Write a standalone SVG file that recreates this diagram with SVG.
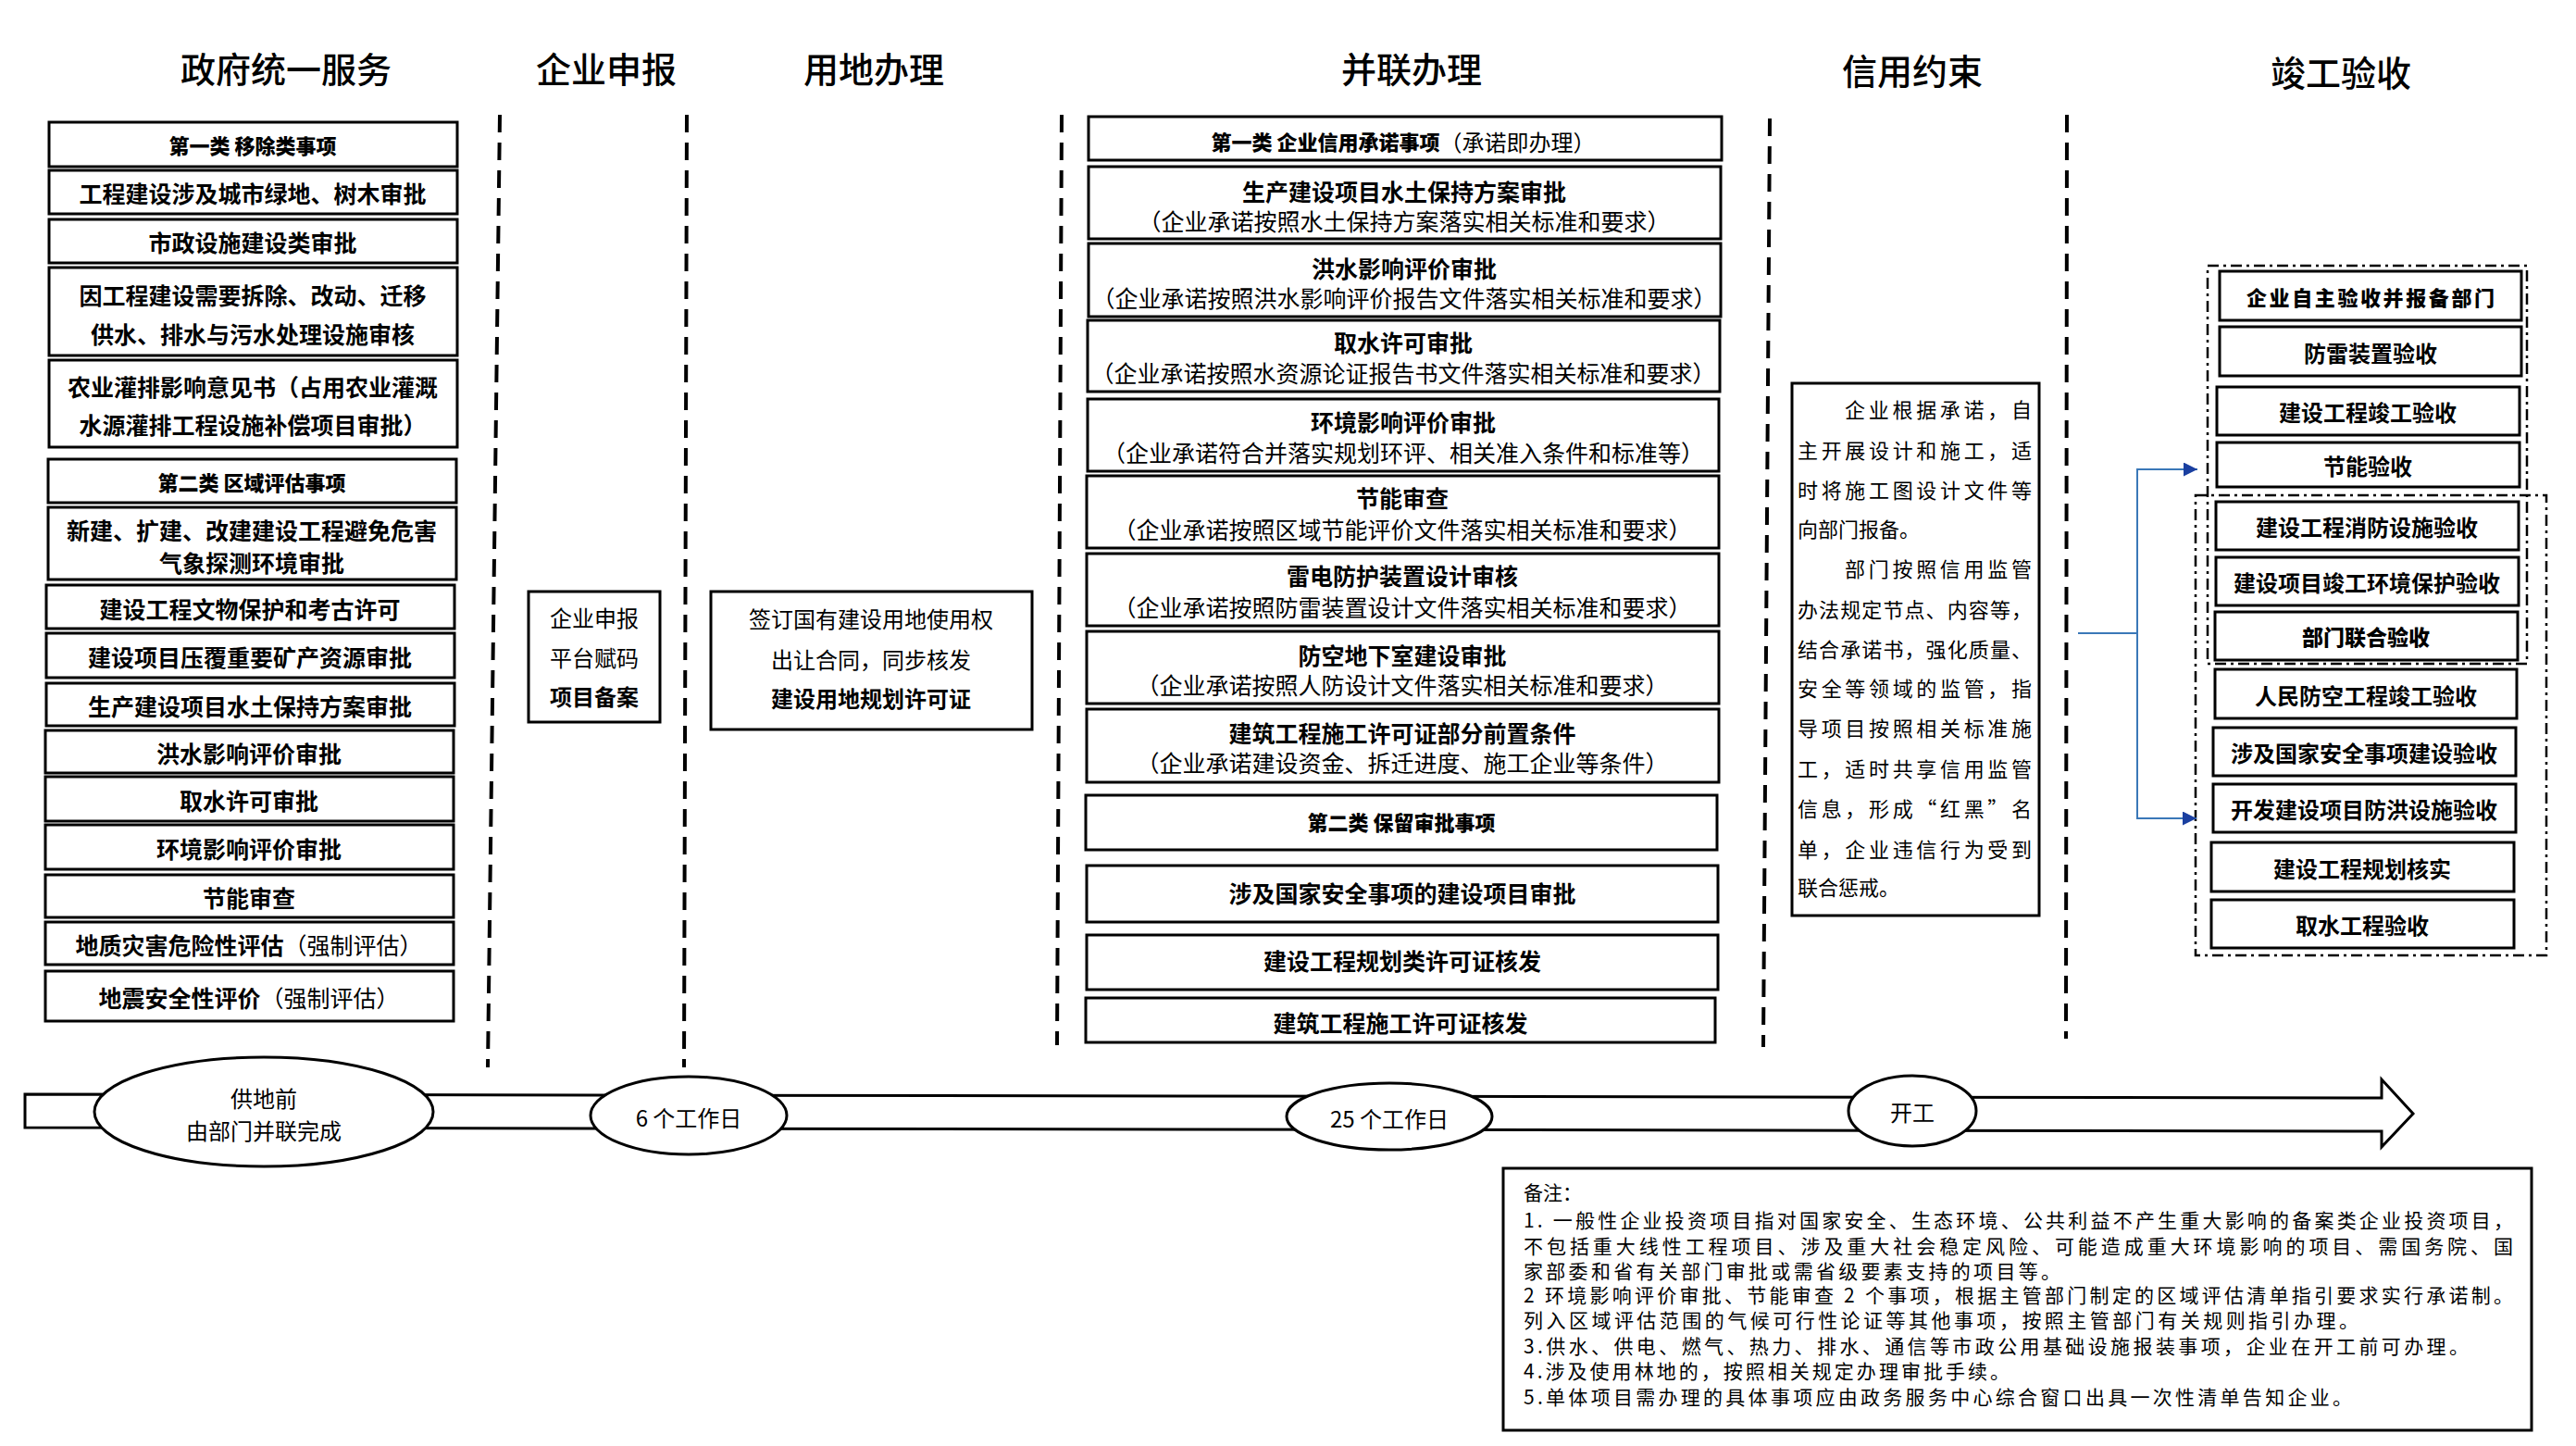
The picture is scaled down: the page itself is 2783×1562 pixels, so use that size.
<svg xmlns="http://www.w3.org/2000/svg" width="2783" height="1562" viewBox="0 0 2783 1562">
<defs>
<style>
.bx{fill:#fff;stroke:#000;stroke-width:3}
.t{font-family:"Noto Sans CJK SC","Noto Sans",sans-serif;text-anchor:middle;dominant-baseline:central;fill:#000}
.tl{font-family:"Noto Sans CJK SC","Noto Sans",sans-serif;text-anchor:start;dominant-baseline:central;fill:#000}
.b{font-weight:700;font-size:25px}
.r{font-weight:400;font-size:25px}
.cal{font-weight:900;font-size:22px}
.h{font-weight:500;font-size:38px}
.cr{font-weight:400;font-size:22px}
.nt{font-weight:400;font-size:21px}
.el{font-weight:400;font-size:24px}
.dash{stroke:#000;stroke-width:4;stroke-dasharray:19 11;fill:none}
.dd{stroke:#000;stroke-width:2.5;stroke-dasharray:12 5 3 5;fill:none}
.blue{stroke:#3a78b8;stroke-width:2;fill:none}
</style>
<marker id="ah" viewBox="0 0 10 10" refX="10" refY="5" markerUnits="userSpaceOnUse" markerWidth="16" markerHeight="15" orient="auto">
<path d="M0,0 L10,5 L0,10 z" fill="#1a3fa0"/>
</marker>
</defs>
<rect width="2783" height="1562" fill="#fff"/>

<g id="headers">
<text class="t h" x="309" y="72">政府统一服务</text>
<text class="t h" x="655" y="72">企业申报</text>
<text class="t h" x="944" y="72">用地办理</text>
<text class="t h" x="1525" y="72">并联办理</text>
<text class="t h" x="2066" y="74">信用约束</text>
<text class="t h" x="2529" y="76">竣工验收</text>
</g>

<g id="dividers">
<line class="dash" x1="540" y1="124" x2="527" y2="1153"/>
<line class="dash" x1="742" y1="124" x2="739" y2="1153"/>
<line class="dash" x1="1147" y1="124" x2="1142" y2="1129"/>
<line class="dash" x1="1912" y1="128" x2="1905" y2="1131"/>
<line class="dash" x1="2233" y1="124" x2="2232" y2="1122"/>
</g>

<g id="timeline">
<polygon points="27,1182 2573,1186 2573,1166 2607,1203 2573,1239 2573,1222 27,1218" fill="#fff" stroke="#000" stroke-width="3"/>
</g>

<g id="node-gov">
<rect class="bx" x="53" y="132" width="441" height="48"/>
<text class="t cal" x="273" y="156">第一类 移除类事项</text>
<rect class="bx" x="53" y="184" width="441" height="47"/>
<text class="t b" x="273" y="208">工程建设涉及城市绿地、树木审批</text>
<rect class="bx" x="53" y="237" width="441" height="47"/>
<text class="t b" x="273" y="261">市政设施建设类审批</text>
<rect class="bx" x="53" y="289" width="441" height="95"/>
<text class="t b" x="273" y="318">因工程建设需要拆除、改动、迁移</text>
<text class="t b" x="273" y="360">供水、排水与污水处理设施审核</text>
<rect class="bx" x="53" y="389" width="441" height="94"/>
<text class="t b" x="273" y="417">农业灌排影响意见书（占用农业灌溉</text>
<text class="t b" x="273" y="458">水源灌排工程设施补偿项目审批）</text>
<rect class="bx" x="52" y="496" width="441" height="47"/>
<text class="t cal" x="272" y="520">第二类 区域评估事项</text>
<rect class="bx" x="52" y="548" width="441" height="78"/>
<text class="t b" x="272" y="572">新建、扩建、改建建设工程避免危害</text>
<text class="t b" x="272" y="607">气象探测环境审批</text>
<rect class="bx" x="50" y="632" width="441" height="47"/>
<text class="t b" x="270" y="657">建设工程文物保护和考古许可</text>
<rect class="bx" x="50" y="684" width="441" height="48"/>
<text class="t b" x="270" y="709">建设项目压覆重要矿产资源审批</text>
<rect class="bx" x="50" y="738" width="441" height="46"/>
<text class="t b" x="270" y="762">生产建设项目水土保持方案审批</text>
<rect class="bx" x="49" y="789" width="441" height="46"/>
<text class="t b" x="269" y="813">洪水影响评价审批</text>
<rect class="bx" x="49" y="839" width="441" height="48"/>
<text class="t b" x="269" y="864">取水许可审批</text>
<rect class="bx" x="49" y="891" width="441" height="48"/>
<text class="t b" x="269" y="916">环境影响评价审批</text>
<rect class="bx" x="49" y="945" width="441" height="46"/>
<text class="t b" x="269" y="969">节能审查</text>
<rect class="bx" x="49" y="996" width="441" height="46"/>
<text class="t b" x="269" y="1020">地质灾害危险性评估<tspan class="r">（强制评估）</tspan></text>
<rect class="bx" x="49" y="1049" width="441" height="54"/>
<text class="t b" x="269" y="1077">地震安全性评价<tspan class="r">（强制评估）</tspan></text>
</g>

<g id="node-apply">
<rect class="bx" x="571" y="639" width="142" height="141"/>
<text class="t r" x="642" y="666" style="font-size:24px">企业申报</text>
<text class="t r" x="642" y="709" style="font-size:24px">平台赋码</text>
<text class="t b" x="642" y="751" style="font-size:24px">项目备案</text>
</g>

<g id="node-land">
<rect class="bx" x="768" y="639" width="347" height="149"/>
<text class="t r" x="941" y="667" style="font-size:24px">签订国有建设用地使用权</text>
<text class="t r" x="941" y="711" style="font-size:24px">出让合同，同步核发</text>
<text class="t b" x="941" y="753" style="font-size:24px">建设用地规划许可证</text>
</g>

<g id="node-parallel">
<rect class="bx" x="1176" y="126" width="684" height="47"/>
<text class="t cal" x="1516" y="152">第一类 企业信用承诺事项<tspan class="r" style="font-size:24px">（承诺即办理）</tspan></text>
<rect class="bx" x="1176" y="180" width="683" height="78"/>
<text class="t b" x="1517" y="206">生产建设项目水土保持方案审批</text>
<text class="t r" x="1517" y="238">（企业承诺按照水土保持方案落实相关标准和要求）</text>
<rect class="bx" x="1176" y="263" width="683" height="79"/>
<text class="t b" x="1517" y="289">洪水影响评价审批</text>
<text class="t r" x="1517" y="321">（企业承诺按照洪水影响评价报告文件落实相关标准和要求）</text>
<rect class="bx" x="1175" y="346" width="683" height="77"/>
<text class="t b" x="1516" y="369">取水许可审批</text>
<text class="t r" x="1516" y="402">（企业承诺按照水资源论证报告书文件落实相关标准和要求）</text>
<rect class="bx" x="1175" y="431" width="682" height="78"/>
<text class="t b" x="1516" y="455">环境影响评价审批</text>
<text class="t r" x="1516" y="488">（企业承诺符合并落实规划环评、相关准入条件和标准等）</text>
<rect class="bx" x="1174" y="514" width="683" height="78"/>
<text class="t b" x="1515" y="537">节能审查</text>
<text class="t r" x="1515" y="571">（企业承诺按照区域节能评价文件落实相关标准和要求）</text>
<rect class="bx" x="1174" y="598" width="683" height="78"/>
<text class="t b" x="1515" y="621">雷电防护装置设计审核</text>
<text class="t r" x="1515" y="655">（企业承诺按照防雷装置设计文件落实相关标准和要求）</text>
<rect class="bx" x="1174" y="682" width="683" height="78"/>
<text class="t b" x="1515" y="707">防空地下室建设审批</text>
<text class="t r" x="1515" y="739">（企业承诺按照人防设计文件落实相关标准和要求）</text>
<rect class="bx" x="1174" y="766" width="683" height="79"/>
<text class="t b" x="1515" y="791">建筑工程施工许可证部分前置条件</text>
<text class="t r" x="1515" y="823">（企业承诺建设资金、拆迁进度、施工企业等条件）</text>
<rect class="bx" x="1173" y="859" width="682" height="59"/>
<text class="t cal" x="1514" y="887">第二类 保留审批事项</text>
<rect class="bx" x="1174" y="935" width="682" height="61"/>
<text class="t b" x="1515" y="964">涉及国家安全事项的建设项目审批</text>
<rect class="bx" x="1174" y="1010" width="682" height="59"/>
<text class="t b" x="1515" y="1037">建设工程规划类许可证核发</text>
<rect class="bx" x="1173" y="1078" width="680" height="48"/>
<text class="t b" x="1513" y="1104">建筑工程施工许可证核发</text>
</g>

<g id="node-credit">
<rect class="bx" x="1936" y="414" width="267" height="575"/>
<text class="tl cr" x="1993" y="441" textLength="202" lengthAdjust="spacing">企业根据承诺，自</text>
<text class="tl cr" x="1942" y="485" textLength="253" lengthAdjust="spacing">主开展设计和施工，适</text>
<text class="tl cr" x="1942" y="528" textLength="253" lengthAdjust="spacing">时将施工图设计文件等</text>
<text class="tl cr" x="1942" y="570">向部门报备。</text>
<text class="tl cr" x="1993" y="613" textLength="202" lengthAdjust="spacing">部门按照信用监管</text>
<text class="tl cr" x="1942" y="657" textLength="253" lengthAdjust="spacing">办法规定节点、内容等，</text>
<text class="tl cr" x="1942" y="700" textLength="253" lengthAdjust="spacing">结合承诺书，强化质量、</text>
<text class="tl cr" x="1942" y="742" textLength="253" lengthAdjust="spacing">安全等领域的监管，指</text>
<text class="tl cr" x="1942" y="785" textLength="253" lengthAdjust="spacing">导项目按照相关标准施</text>
<text class="tl cr" x="1942" y="829" textLength="253" lengthAdjust="spacing">工，适时共享信用监管</text>
<text class="tl cr" x="1942" y="872" textLength="253" lengthAdjust="spacing">信息，形成“红黑”名</text>
<text class="tl cr" x="1942" y="916" textLength="253" lengthAdjust="spacing">单，企业违信行为受到</text>
<text class="tl cr" x="1942" y="957">联合惩戒。</text>
</g>

<g id="node-accept">
<rect class="dd" x="2385" y="287" width="345" height="430"/>
<rect class="dd" x="2372" y="535" width="379" height="497"/>
<rect class="bx" x="2398" y="293" width="326" height="53"/>
<text class="t cal" x="2561" y="320" textLength="268" lengthAdjust="spacing">企业自主验收并报备部门</text>
<rect class="bx" x="2398" y="353" width="326" height="53"/>
<text class="t b" x="2561" y="380" style="font-size:24px">防雷装置验收</text>
<rect class="bx" x="2395" y="418" width="327" height="52"/>
<text class="t b" x="2558" y="444" style="font-size:24px">建设工程竣工验收</text>
<rect class="bx" x="2395" y="478" width="327" height="48"/>
<text class="t b" x="2558" y="502" style="font-size:24px">节能验收</text>
<rect class="bx" x="2394" y="542" width="327" height="52"/>
<text class="t b" x="2557" y="568" style="font-size:24px">建设工程消防设施验收</text>
<rect class="bx" x="2394" y="602" width="327" height="52"/>
<text class="t b" x="2557" y="628" style="font-size:24px">建设项目竣工环境保护验收</text>
<rect class="bx" x="2393" y="661" width="327" height="52"/>
<text class="t cal" x="2556" y="687" style="font-size:23px">部门联合验收</text>
<rect class="bx" x="2393" y="723" width="326" height="53"/>
<text class="t b" x="2556" y="750" style="font-size:24px">人民防空工程竣工验收</text>
<rect class="bx" x="2391" y="786" width="327" height="52"/>
<text class="t b" x="2554" y="812" style="font-size:24px">涉及国家安全事项建设验收</text>
<rect class="bx" x="2391" y="847" width="327" height="52"/>
<text class="t b" x="2554" y="873" style="font-size:24px">开发建设项目防洪设施验收</text>
<rect class="bx" x="2389" y="910" width="327" height="53"/>
<text class="t b" x="2552" y="937" style="font-size:24px">建设工程规划核实</text>
<rect class="bx" x="2389" y="972" width="327" height="52"/>
<text class="t b" x="2552" y="998" style="font-size:24px">取水工程验收</text>
</g>

<g id="connectors">
<path class="blue" d="M2245,684 H2309"/>
<path class="blue" d="M2309,684 V507 H2374" marker-end="url(#ah)"/>
<path class="blue" d="M2309,684 V884 H2373" marker-end="url(#ah)"/>
</g>

<g id="milestones">
<ellipse cx="285" cy="1201" rx="183" ry="59" fill="#fff" stroke="#000" stroke-width="3"/>
<text class="t el" x="285" y="1185">供地前</text>
<text class="t el" x="285" y="1220">由部门并联完成</text>
<ellipse cx="744" cy="1205" rx="106" ry="42" fill="#fff" stroke="#000" stroke-width="3"/>
<text class="t el" x="744" y="1206">6 个工作日</text>
<ellipse cx="1501" cy="1206" rx="111" ry="36" fill="#fff" stroke="#000" stroke-width="3"/>
<text class="t el" x="1501" y="1207">25 个工作日</text>
<ellipse cx="2066" cy="1200" rx="69" ry="38" fill="#fff" stroke="#000" stroke-width="3"/>
<text class="t el" x="2066" y="1200">开工</text>
</g>

<g id="node-notes">
<rect class="bx" x="1624" y="1262" width="1111" height="283"/>
<text class="tl nt" x="1646" y="1287">备注：</text>
<text class="tl nt" x="1646" y="1317" textLength="1069" lengthAdjust="spacing">1. 一般性企业投资项目指对国家安全、生态环境、公共利益不产生重大影响的备案类企业投资项目，</text>
<text class="tl nt" x="1646" y="1345" textLength="1069" lengthAdjust="spacing">不包括重大线性工程项目、涉及重大社会稳定风险、可能造成重大环境影响的项目、需国务院、国</text>
<text class="tl nt" x="1646" y="1372" textLength="580" lengthAdjust="spacing">家部委和省有关部门审批或需省级要素支持的项目等。</text>
<text class="tl nt" x="1646" y="1398" textLength="1069" lengthAdjust="spacing">2 环境影响评价审批、节能审查 2 个事项，根据主管部门制定的区域评估清单指引要求实行承诺制。</text>
<text class="tl nt" x="1646" y="1425" textLength="902" lengthAdjust="spacing">列入区域评估范围的气候可行性论证等其他事项，按照主管部门有关规则指引办理。</text>
<text class="tl nt" x="1646" y="1453" textLength="1021" lengthAdjust="spacing">3.供水、供电、燃气、热力、排水、通信等市政公用基础设施报装事项，企业在开工前可办理。</text>
<text class="tl nt" x="1646" y="1480" textLength="525" lengthAdjust="spacing">4.涉及使用林地的，按照相关规定办理审批手续。</text>
<text class="tl nt" x="1646" y="1508" textLength="895" lengthAdjust="spacing">5.单体项目需办理的具体事项应由政务服务中心综合窗口出具一次性清单告知企业。</text>
</g>
</svg>
